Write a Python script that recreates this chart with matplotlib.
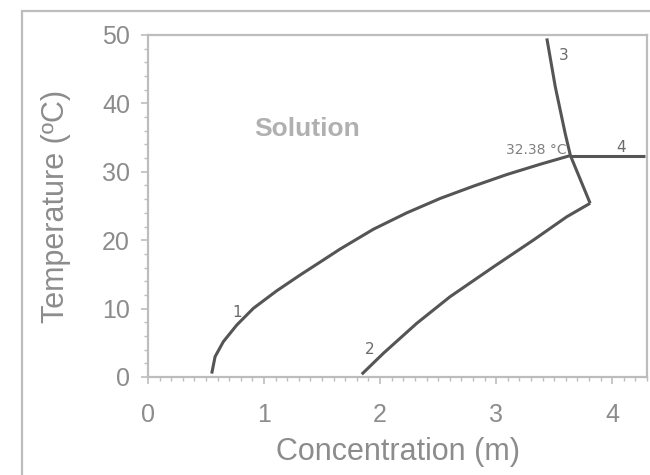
import matplotlib
matplotlib.use("Agg")
import matplotlib.pyplot as plt
from matplotlib.patches import Rectangle
from matplotlib.ticker import MultipleLocator

# Phase diagram: freezing / solubility curves

# curve 1 (ice line)
c1_x = [0.549, 0.578, 0.649, 0.765, 0.908, 1.109, 1.310, 1.483, 1.655, 1.942,
        2.230, 2.517, 2.804, 3.092, 3.379, 3.64]
c1_y = [0.5, 2.97, 5.16, 7.60, 10.04, 12.6, 14.9, 16.8, 18.7, 21.6,
        24.0, 26.1, 27.9, 29.6, 31.1, 32.38]
# curve 2 (lower solubility branch)
c2_x = [1.842, 2.028, 2.316, 2.603, 2.977, 3.322, 3.609, 3.81]
c2_y = [0.4, 3.46, 7.85, 11.74, 16.1, 20.03, 23.43, 25.4]
# curve 3 (upper solubility branch)
c3_x = [3.81, 3.64, 3.595, 3.51, 3.437]
c3_y = [25.4, 32.38, 35.6, 42.4, 49.5]
# curve 4 (horizontal at the transition temperature)
c4_x = [3.64, 4.28]
c4_y = [32.38, 32.38]

curve_labels = ["1", "2", "3", "4"]
label_x = [0.77, 1.91, 3.58, 4.08]
label_y = [9.4, 4.0, 47.0, 33.6]

plt.rcParams['font.family'] = ['Liberation Sans', 'DejaVu Sans']

grey_axis = '#bdbdbd'
grey_text = '#8c8c8c'
line_col = '#555555'

fig = plt.figure(figsize=(6.5, 4.75), dpi=100)
ax = fig.add_axes([148 / 650, 98 / 475, 499 / 650, 342 / 475])

for xs, ys in [(c1_x, c1_y), (c2_x, c2_y), (c3_x, c3_y), (c4_x, c4_y)]:
    ax.plot(xs, ys, color=line_col, lw=2.2, solid_capstyle='butt', solid_joinstyle='miter')

for t, x, y in zip(curve_labels, label_x, label_y):
    ax.text(x, y, t, fontsize=11, family='DejaVu Sans', color='#6a6a6a',
            ha='center', va='center')

ax.text(3.61, 33.2, "32.38 \u00b0C", fontsize=10, family='DejaVu Sans', color='#808080',
        ha='right', va='center')
ax.text(1.37, 36.2, "Solution", fontsize=19, fontweight='bold', color='#b0b0b0',
        ha='center', va='center')

ax.set_xlim(0, 4.3)
ax.set_ylim(0, 50)
ax.xaxis.set_major_locator(MultipleLocator(1))
ax.xaxis.set_minor_locator(MultipleLocator(0.1))
ax.yaxis.set_major_locator(MultipleLocator(10))
ax.yaxis.set_minor_locator(MultipleLocator(2))

for s in ax.spines.values():
    s.set_color(grey_axis)
    s.set_linewidth(1.6)

ax.tick_params(which='major', axis='y', length=5, width=1.2, color=grey_axis,
               labelsize=18, labelcolor=grey_text, pad=8)
ax.tick_params(which='minor', axis='y', length=3, width=1.0, color=grey_axis)
ax.tick_params(which='major', axis='x', length=5, width=1.2, color=grey_axis,
               labelsize=18, labelcolor=grey_text, pad=14)
ax.tick_params(which='minor', axis='x', length=3, width=1.0, color=grey_axis)

ax.set_xlabel("Concentration (m)", fontsize=22, color=grey_text, labelpad=7)
ax.set_ylabel("Temperature (\u00baC)", fontsize=22, color=grey_text, labelpad=22)

# outer frame around the chart, cropped on the right and bottom
fig.patches.append(Rectangle((22 / 650, -0.1), 1.2, 1 - 11 / 475 + 0.1,
                             transform=fig.transFigure, fill=False,
                             edgecolor=grey_axis, lw=1.6))

plt.savefig('out.png', dpi=100)
